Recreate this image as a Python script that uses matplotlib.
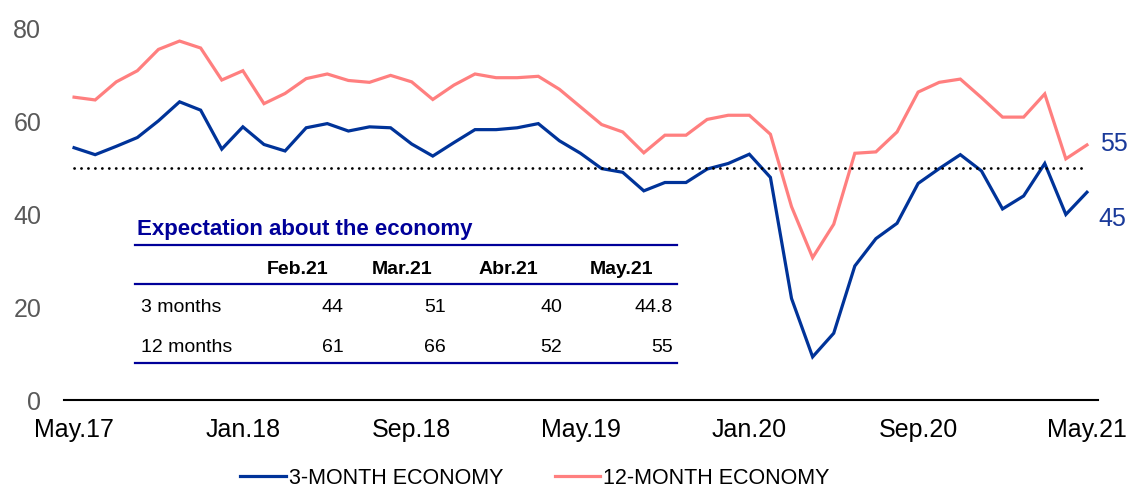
import matplotlib
matplotlib.use("Agg")
import matplotlib.pyplot as plt
from matplotlib.lines import Line2D

plt.rcParams['font.family'] = ['Liberation Sans', 'DejaVu Sans']

# ---- data ----
x_tick_labels = ['May.17', 'Jan.18', 'Sep.18', 'May.19', 'Jan.20', 'Sep.20', 'May.21']
three_month = [54.4, 52.9, 54.7, 56.6, 60.2, 64.3, 62.5, 54.1, 58.9, 55.1, 53.7, 58.7,
               59.6, 58.0, 58.9, 58.7, 55.2, 52.6, 55.5, 58.3, 58.3, 58.7, 59.6, 55.9,
               53.2, 49.9, 49.1, 45.1, 46.9, 46.9, 49.8, 51.0, 53.0, 48.0, 21.9, 9.3,
               14.4, 28.9, 34.8, 38.1, 46.7, 49.9, 52.9, 49.4, 41.2, 44.0, 51.0, 40.0, 44.8]
twelve_month = [65.3, 64.7, 68.6, 71.0, 75.6, 77.4, 75.9, 69.0, 71.0, 63.9, 66.1, 69.3,
                70.3, 68.9, 68.5, 70.0, 68.6, 64.8, 67.9, 70.3, 69.5, 69.5, 69.8, 67.0,
                63.2, 59.4, 57.8, 53.3, 57.1, 57.1, 60.5, 61.4, 61.4, 57.3, 41.7, 30.7,
                37.9, 53.2, 53.5, 57.8, 66.4, 68.5, 69.2, 65.2, 61.0, 61.0, 66.0, 52.0, 55.0]
reference_level = 50
series_names = ['3-MONTH ECONOMY', '12-MONTH ECONOMY']

table_title = 'Expectation about the economy'
table_cols = ['Feb.21', 'Mar.21', 'Abr.21', 'May.21']
table_rows = ['3 months', '12 months']
table_vals = [['44', '51', '40', '44.8'],
              ['61', '66', '52', '55']]

# ---- styling ----
BLUE = '#003399'
PINK = '#FF7F7F'
NAVY = '#000099'
GRAY = '#595959'
W, H = 1132, 488

fig = plt.figure(figsize=(W / 100, H / 100), dpi=100)


def fx(px):
    return px / W


def fy(py):
    return 1 - py / H


ax = fig.add_axes([fx(63.5), fy(400), fx(1097.5) - fx(63.5), fy(29) - fy(400)])
n = len(three_month)
xs = list(range(n))

l1, = ax.plot(xs, three_month, color=BLUE, lw=2.3, solid_joinstyle='miter')
l2, = ax.plot(xs, twelve_month, color=PINK, lw=2.3, solid_joinstyle='miter')
ax.plot([0, n - 1.2], [reference_level, reference_level], color='black', lw=2.0,
        linestyle=(0, (0.05, 2.45)), dash_capstyle='round')

ax.set_xlim(-0.5, n - 0.5)
ax.set_ylim(0, 80)
ax.set_yticks([0, 20, 40, 60, 80])
ax.set_xticks(list(range(0, n, 8)))
ax.set_xticklabels(x_tick_labels)
ax.tick_params(axis='y', length=0, pad=16, labelsize=18, labelcolor=GRAY)
ax.tick_params(axis='x', length=0, pad=13, labelsize=18, labelcolor='black')
for s in ['top', 'right', 'left']:
    ax.spines[s].set_visible(False)
ax.spines['bottom'].set_linewidth(1.5)
ax.spines['bottom'].set_color('black')
ax.patch.set_visible(False)

# end labels
ax.annotate(f'{twelve_month[-1]:.0f}', (n - 1, twelve_month[-1]), xytext=(13, 1),
            textcoords='offset pixels', ha='left', va='center', fontsize=18, color='#1A3A9A')
ax.annotate(f'{three_month[-1]:.0f}', (n - 1, three_month[-1]), xytext=(11, -27),
            textcoords='offset pixels', ha='left', va='center', fontsize=18, color='#1A3A9A')

# legend
fig.legend([l1, l2], series_names, loc='center', bbox_to_anchor=(fx(535), fy(478)),
           ncol=2, frameon=False, fontsize=15.5, handlelength=2.1, handletextpad=0.15,
           columnspacing=2.4, borderaxespad=0, borderpad=0)

# table
fig.text(fx(137), fy(230), table_title, fontsize=16, fontweight='bold', color=NAVY,
         ha='left', va='center')
for yline in (245, 284, 363):
    fig.add_artist(Line2D([fx(135), fx(677)], [fy(yline), fy(yline)], color=NAVY, lw=1.6,
                          transform=fig.transFigure))
head_right = [328, 432, 538, 653]
val_right = [344, 446, 562, 673]
row_y = [308, 347]
for c, xr in zip(table_cols, head_right):
    fig.text(fx(xr), fy(269), c, fontsize=14, fontweight='bold', ha='right', va='center')
for r, (lab, yy) in enumerate(zip(table_rows, row_y)):
    fig.text(fx(141), fy(yy), lab, fontsize=14, ha='left', va='center')
    for c, xr in enumerate(val_right):
        fig.text(fx(xr), fy(yy), table_vals[r][c], fontsize=14, ha='right', va='center')

fig.savefig('out.png', dpi=100)
